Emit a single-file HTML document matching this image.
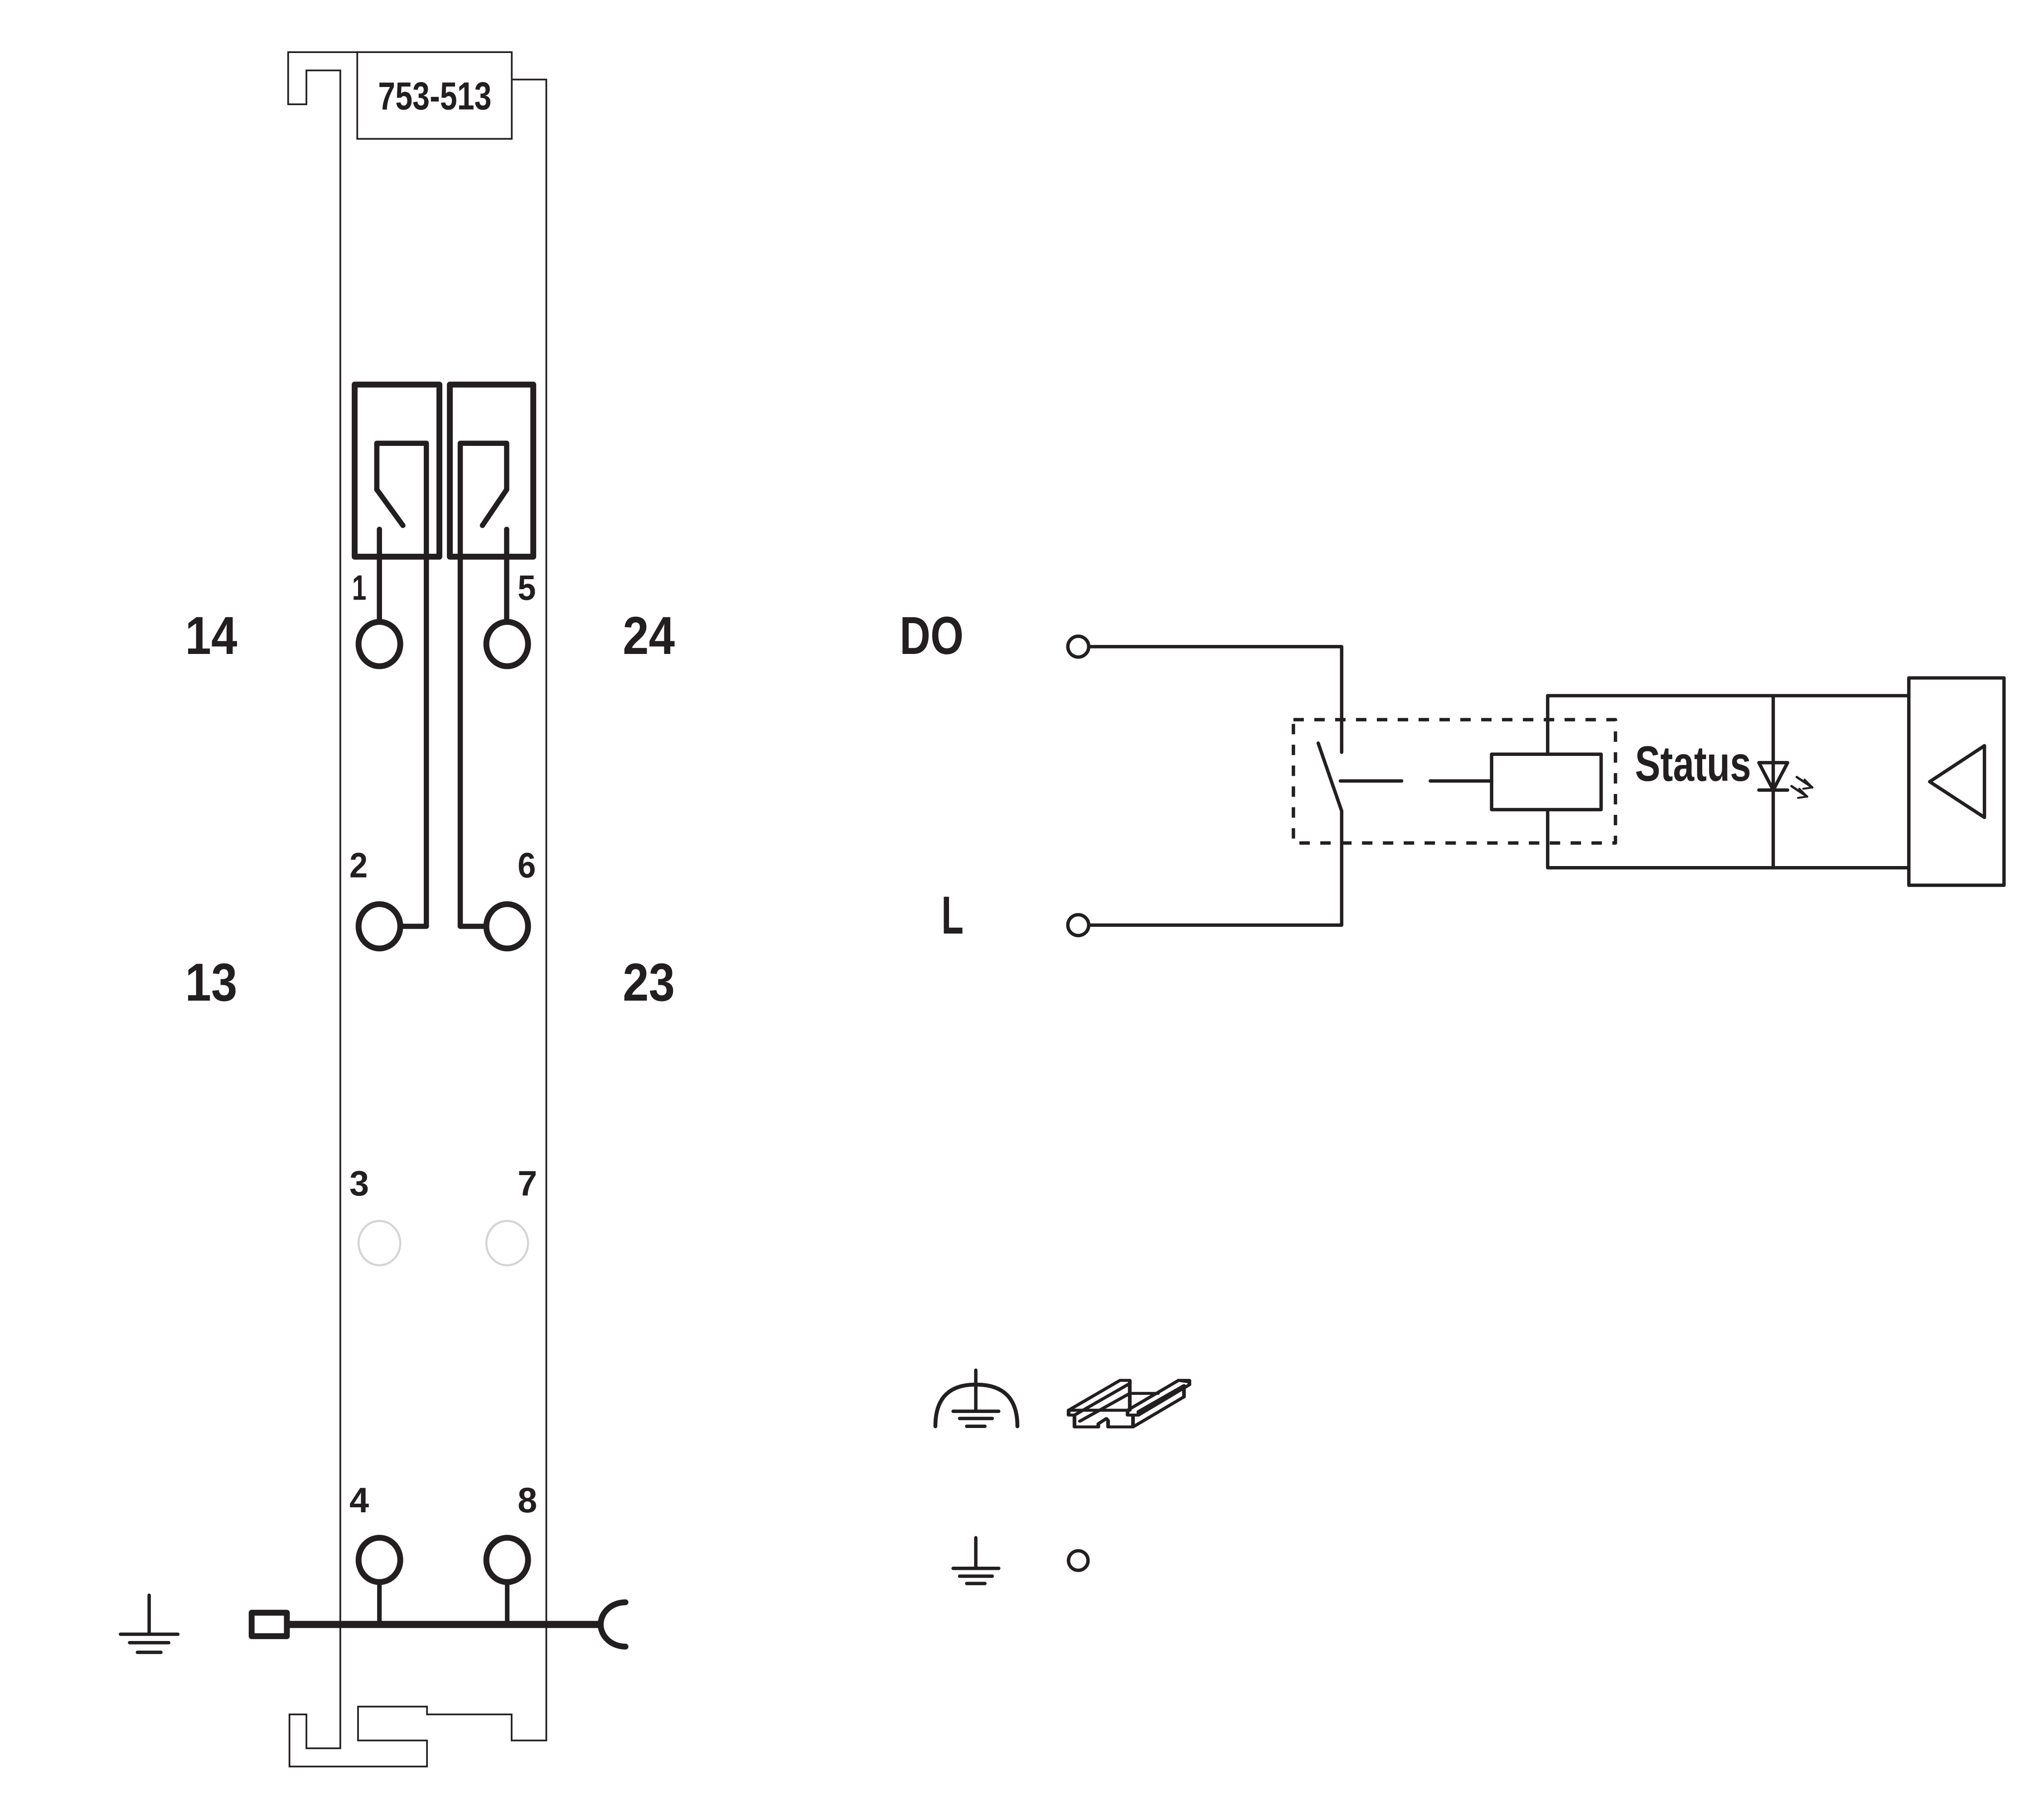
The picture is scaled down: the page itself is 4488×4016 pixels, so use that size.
<!DOCTYPE html>
<html><head><meta charset="utf-8"><style>
html,body{margin:0;padding:0;background:#fff;}
svg{display:block;}
text{font-family:"Liberation Sans",sans-serif;font-weight:bold;fill:#231f20;}
</style></head><body>
<svg width="4488" height="4016" viewBox="0 0 1560 1396" preserveAspectRatio="none" xmlns="http://www.w3.org/2000/svg">
<rect width="1560" height="1396" fill="#fff"/>
<g fill="none" stroke="#231f20" stroke-linecap="round" stroke-linejoin="round">
<g stroke-width="1.3" stroke-linecap="butt" stroke-linejoin="miter">
<path d="M274,40 L221,40 L221,80 L235,80 L235,54 L261,54 L261,1341 L235,1341 L235,1315 L222,1315 L222,1355 L327.5,1355 L327.5,1335 L274.6,1335 L274.6,1309 L327.5,1309 L327.5,1315 L392.4,1315 L392.4,1335 L419,1335 L419,61 L392.5,61"/>
<rect x="274" y="40" width="118.5" height="66.5"/>
</g>
<g stroke-width="4.5">
<rect x="272" y="295" width="65" height="132" stroke-linecap="butt"/>
<rect x="345" y="295" width="64" height="132" stroke-linecap="butt"/>
<path d="M289,375.5 L289,340 L327,340 L327,710.5 L308,710.5" stroke-width="4"/>
<path d="M289,375.5 L309,403" stroke-width="4"/>
<path d="M291,406 L291,477" stroke-width="4"/>
<path d="M388.6,375.5 L388.6,340 L353,340 L353,710.5 L371,710.5" stroke-width="4"/>
<path d="M388.6,375.5 L370,403" stroke-width="4"/>
<path d="M388.6,406 L388.6,477" stroke-width="4"/>
<ellipse cx="291" cy="494" rx="16" ry="17"/>
<ellipse cx="389" cy="494" rx="16" ry="17"/>
<ellipse cx="291" cy="710.5" rx="16" ry="17"/>
<ellipse cx="389" cy="710.5" rx="16" ry="17"/>
<ellipse cx="291" cy="1196.5" rx="16" ry="17"/>
<ellipse cx="389" cy="1196.5" rx="16" ry="17"/>
</g>
<ellipse cx="291" cy="953.5" rx="16" ry="17" stroke="#d4d4d4" stroke-width="1.6"/>
<ellipse cx="389" cy="953.5" rx="16" ry="17" stroke="#d4d4d4" stroke-width="1.6"/>
<path d="M291,1214 L291,1246 M389,1214 L389,1246" stroke-width="3.5"/>
<path d="M221,1246 L462,1246" stroke-width="5.5" stroke-linecap="butt"/>
<rect x="193" y="1237" width="27" height="18" stroke-width="4.5" stroke-linecap="butt"/>
<path d="M479.7,1229 A19,17 0 0 0 479.7,1263" stroke-width="4.5"/>
<path d="M114.4,1223.6 L114.4,1253.5 M92.4,1253.5 L136.4,1253.5 M99.4,1260 L129.4,1260 M105.4,1267.4 L123.4,1267.4" stroke-width="2.6"/>
<g stroke-width="2.6">
<circle cx="827" cy="496" r="8"/>
<circle cx="827" cy="709.6" r="8"/>
<path d="M835,496 L1029,496 L1029,577"/>
<path d="M835,709.6 L1029,709.6 L1029,622 L1011,570"/>
<path d="M1028,599 L1075,599 M1097,599 L1144,599"/>
<rect x="1144" y="578.5" width="84" height="42.5"/>
<path d="M1187,578.5 L1187,533.6 L1464,533.6 M1187,621 L1187,665.6 L1464,665.6"/>
<path d="M1360,533.6 L1360,665.6"/>
<rect x="1464" y="520" width="73" height="159"/>
<path d="M1522,572 L1480,599.6 L1522,627 Z"/>
<path d="M1349,585 L1371,585 L1360,606 Z"/>
<path d="M1349,606 L1371,606"/>
</g>
<path d="M1378,596 L1390,604 M1374,603 L1386,611" stroke-width="1.8"/>
<path d="M1390,604 L1384,598 M1390,604 L1383,605 M1386,611 L1380,605 M1386,611 L1379,612" stroke-width="1.5"/>
<rect x="992" y="552" width="247" height="94.6" stroke-width="2.6" stroke-dasharray="8,8" stroke-linecap="butt"/>
<g stroke-width="2.6">
<path d="M748.4,1051 L748.4,1082.5 M731,1082.5 L766,1082.5 M736,1088 L761,1088 M741.4,1094 L755.4,1094"/>
<path d="M717.4,1094 Q717.4,1062 748.4,1062 Q780.3,1062 780.3,1094" stroke-width="3"/>
<path d="M748.4,1179.5 L748.4,1203 M731,1203 L766,1203 M736,1209 L761,1209 M741.4,1214.6 L755.4,1214.6"/>
<circle cx="827" cy="1197" r="7.5"/>
</g>
<g transform="translate(695.2,1042.8) scale(0.1663,0.1332)" stroke-width="17">
<path d="M748,292 L748,320 L775,320 L775,388 L885,388 L885,370 L922,340 L930,352 L930,388 L1045,388 L1045,320 L1020,320 L1020,292 Z"/>
<path d="M748,292 L985,120 L1030,120 L1030,292"/>
<path d="M775,320 L1030,138"/>
<path d="M800,355 L1030,195 L1160,195"/>
<path d="M1020,292 L1255,120 L1305,120 L1305,145 L1070,320 L1045,320"/>
<path d="M1255,120 L1300,128"/>
<path d="M1070,320 L1070,300 L1280,150"/>
<path d="M1280,160 L1280,215 L1045,388"/>
</g>
</g>
<text x="290" y="84" font-size="30" textLength="87" lengthAdjust="spacingAndGlyphs">753-513</text>
<text x="270" y="460" font-size="27" textLength="11" lengthAdjust="spacingAndGlyphs">1</text>
<text x="397" y="460" font-size="27" textLength="14" lengthAdjust="spacingAndGlyphs">5</text>
<text x="268" y="673" font-size="27" textLength="14" lengthAdjust="spacingAndGlyphs">2</text>
<text x="397" y="673" font-size="27" textLength="14" lengthAdjust="spacingAndGlyphs">6</text>
<text x="268" y="917" font-size="27" textLength="15" lengthAdjust="spacingAndGlyphs">3</text>
<text x="397" y="917" font-size="27" textLength="15" lengthAdjust="spacingAndGlyphs">7</text>
<text x="268" y="1160" font-size="27" textLength="15" lengthAdjust="spacingAndGlyphs">4</text>
<text x="397" y="1160" font-size="27" textLength="15" lengthAdjust="spacingAndGlyphs">8</text>
<text x="142" y="501.6" font-size="41" textLength="40" lengthAdjust="spacingAndGlyphs">14</text>
<text x="477.6" y="501.6" font-size="41" textLength="40" lengthAdjust="spacingAndGlyphs">24</text>
<text x="142" y="767.5" font-size="41" textLength="40" lengthAdjust="spacingAndGlyphs">13</text>
<text x="477.6" y="767.5" font-size="41" textLength="40" lengthAdjust="spacingAndGlyphs">23</text>
<text x="690" y="501.6" font-size="41" textLength="49" lengthAdjust="spacingAndGlyphs">DO</text>
<text x="722" y="716" font-size="41" textLength="17" lengthAdjust="spacingAndGlyphs">L</text>
<text x="1254" y="599" font-size="38" textLength="89" lengthAdjust="spacingAndGlyphs">Status</text>
</svg>
</body></html>
